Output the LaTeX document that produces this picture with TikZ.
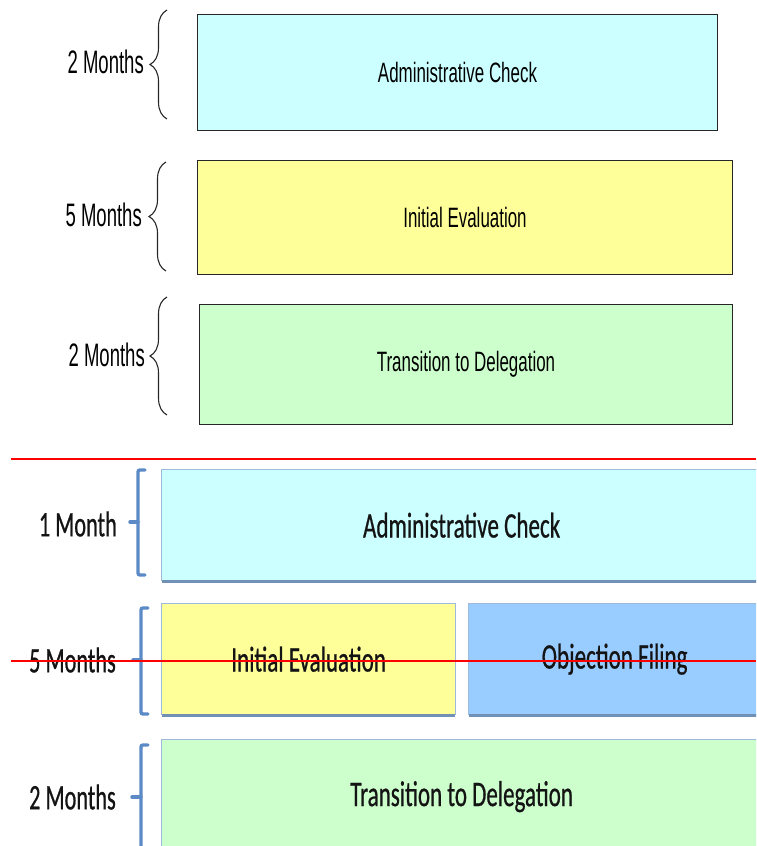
\documentclass[tikz,border=0pt]{standalone}
\usepackage{fontspec}
\usetikzlibrary{decorations.pathreplacing}
\newfontfamily\arialM[FakeStretch=0.57]{Liberation Sans}
\newfontfamily\arialB[FakeStretch=0.605]{Liberation Sans}
\newfontfamily\calB[FakeStretch=0.64,FakeBold=0.6]{Carlito}
\newfontfamily\calM[FakeStretch=0.62,FakeBold=0.6]{Carlito}
\definecolor{cyanF}{HTML}{CCFFFF}
\definecolor{yellowF}{HTML}{FFFF99}
\definecolor{greenF}{HTML}{CCFFCC}
\definecolor{blueF}{HTML}{99CCFF}
\definecolor{lightEdge}{HTML}{9DBADC}
\definecolor{darkEdge}{HTML}{7190B5}
\definecolor{bracketC}{HTML}{5B8AC6}
\definecolor{redL}{HTML}{FF0000}
\begin{document}
\begin{tikzpicture}[x=1pt,y=-1pt,
  tbox/.style={draw=black!85, line width=1pt, inner sep=0pt, anchor=north west,
    font=\arialB\fontsize{28}{30}\selectfont},
  bbox/.style={draw=lightEdge, line width=1.3pt, inner sep=0pt, anchor=north west,
    font=\calB\fontsize{36}{40}\selectfont, text=black!92},
  tlabel/.style={anchor=east, inner sep=0pt, font=\arialM\fontsize{32.5}{36}\selectfont},
  blabel/.style={anchor=east, inner sep=0pt, font=\calM\fontsize{36}{40}\selectfont, text=black!92},
  tbrace/.style={draw=black!85, line width=1.1pt, decorate, decoration={brace, amplitude=17pt}},
  bbrack/.style={draw=bracketC, line width=3.4pt, rounded corners=2pt, line cap=round},
  shadowline/.style={draw=darkEdge, line width=3pt},
  redline/.style={draw=redL}]
\useasboundingbox (0,0) rectangle (756,846);
\clip (0,0) rectangle (756,846);

% ---------- top part ----------
\node[tbox, fill=cyanF, minimum width=520pt, minimum height=116pt] (ac1) at (197,14) {Administrative Check};
\node[tbox, fill=yellowF, minimum width=535pt, minimum height=114pt] (ie1) at (197,160) {Initial Evaluation};
\node[tbox, fill=greenF, minimum width=533pt, minimum height=120pt] (td1) at (199,304) {Transition to Delegation};

\node[tlabel] (m1) at (144,62) {2 Months};
\node[tlabel] (m2) at (142,215) {5 Months};
\node[tlabel] (m3) at (145,355) {2 Months};

\coordinate (b1s) at (167,119); \coordinate (b1e) at (167,10);
\coordinate (b2s) at (166,271); \coordinate (b2e) at (166,162);
\coordinate (b3s) at (167,415); \coordinate (b3e) at (167,297);
\draw[tbrace] (b1s) -- (b1e);
\draw[tbrace] (b2s) -- (b2e);
\draw[tbrace] (b3s) -- (b3e);

% ---------- bottom part ----------
\node[bbox, fill=cyanF, minimum width=600pt, minimum height=111pt] (ac2) at (161,469) {Administrative Check};
\node[bbox, fill=yellowF, minimum width=294pt, minimum height=111pt] (ie2) at (161,603) {Initial Evaluation};
\node[bbox, fill=blueF, minimum width=292pt, minimum height=111pt] (of2) at (468,603) {Objection Filing};
\node[bbox, fill=greenF, minimum width=600pt, minimum height=114pt] (td2) at (161,739) {Transition to Delegation};

\draw[shadowline] ([xshift=1pt]ac2.south west) -- (ac2.south east);
\draw[shadowline] ([xshift=1pt]ie2.south west) -- ([xshift=-1pt]ie2.south east);
\draw[shadowline] ([xshift=1pt]of2.south west) -- (of2.south east);

\node[blabel] (n1) at (117,524) {1 Month};
\node[blabel] (n2) at (116,660) {5 Months};
\node[blabel] (n3) at (116,797) {2 Months};

\draw[bbrack] (145,470) -- (138,470) -- (138,575) -- (145,575);
\draw[bbrack] (138,522) -- (130,522);
\draw[bbrack] (148,608) -- (141,608) -- (141,714) -- (148,714);
\draw[bbrack] (141,660) -- (133,660);
\draw[bbrack] (148,745) -- (141,745) -- (141,860);
\draw[bbrack] (141,797) -- (132,797);

% ---------- red lines ----------
\draw[redline, line width=2.3pt] (11,459) -- (756,459);
\draw[redline, line width=1.8pt] (11,661) -- (756,661);
\end{tikzpicture}
\end{document}
